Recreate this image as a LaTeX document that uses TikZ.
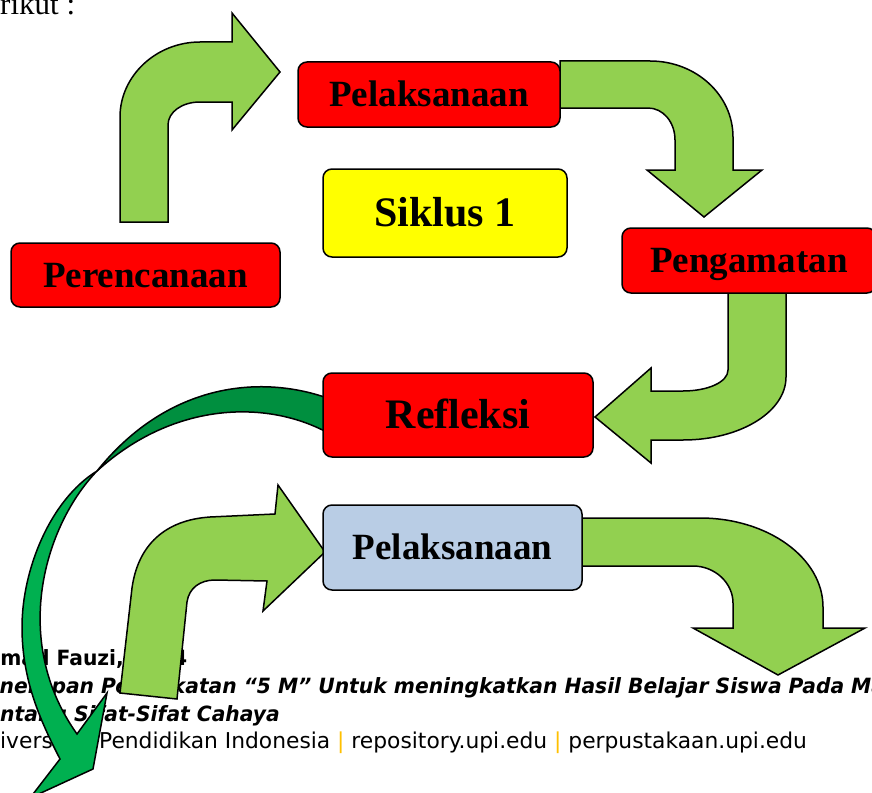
\documentclass[tikz,border=0pt]{standalone}
\usepackage{fontspec}
\setmainfont{Liberation Serif}
\newfontfamily\footfont{DejaVu Sans}
\newfontfamily\footcond[FakeStretch=0.965]{DejaVu Sans}
\usepackage{tikz}

\definecolor{arrowgreen}{HTML}{92D050}
\definecolor{darkarrow}{HTML}{008F3F}
\definecolor{brightarrow}{HTML}{00B050}
\definecolor{stagered}{HTML}{FF0000}
\definecolor{stageyellow}{HTML}{FFFF00}
\definecolor{stageblue}{HTML}{B9CDE5}
\definecolor{bargold}{HTML}{FFC000}

\begin{document}
\begin{tikzpicture}[
    x=1pt, y=-1pt,
    stage/.style={rectangle, draw, line width=1.5pt, rounded corners=9pt, inner sep=0pt, font=\bfseries\fontsize{37}{40}\selectfont, text height=24.5pt, text depth=0pt},
    bigstage/.style={stage, font=\bfseries\fontsize{42}{46}\selectfont, text height=27.8pt},
    bigarrow/.style={draw, line width=1.5pt, fill=arrowgreen},
    footline/.style={anchor=base west, inner sep=0pt, font=\footfont\fontsize{21.8}{25}\selectfont},
    footbold/.style={footline, font=\footcond\bfseries\fontsize{21}{25}\selectfont},
    footitalic/.style={footline, font=\footcond\bfseries\itshape\fontsize{21}{25}\selectfont}
]
    \useasboundingbox (0,0) rectangle (872,792);
    \clip (0,0) rectangle (872,792);

    % Text
    \node[anchor=base west, inner sep=0pt, font=\fontsize{31}{34}\selectfont] (berikut) at (0,15) {rikut :};
    \node[footbold] (penulis) at (-30,665) {Ahmad Fauzi, 2014};
    \node[footitalic] (judul) at (-28.6,693) {Penerapan Pendekatan “5 M” Untuk meningkatkan Hasil Belajar Siswa Pada Ma};
    \node[footitalic] (judulb) at (-23.4,721) {tentang Sifat-Sifat Cahaya};
    \node[footline] (kampus) at (-29.8,748) {Universitas Pendidikan Indonesia {\color{bargold}|} repository.upi.edu {\color{bargold}|} perpustakaan.upi.edu};

    % Arrows
    \draw[bigarrow] (120,222) -- (120,117) .. controls (120,76) and (156,42) .. (200,42) -- (232,42) -- (232,13) -- (280,72) -- (232,130) -- (232,102) -- (200,102) .. controls (182,102) and (168,112) .. (168,125) -- (168,222) -- cycle;
    \draw[bigarrow] (560,61) -- (650,61) .. controls (696,61) and (733,95) .. (733,137) -- (733,170) -- (762,170) -- (704,217) -- (647,170) -- (675,170) -- (675,140) .. controls (675,122) and (663,108) .. (648,108) -- (560,108) -- cycle;
    \draw[bigarrow] (728,293) -- (728,370) .. controls (728,382) and (708,391) .. (683,391) -- (651,391) -- (651,368) -- (595,417) -- (651,463) -- (651,440) -- (683,440) .. controls (740,440) and (786,412) .. (786,377) -- (786,293) -- cycle;
    \draw[line width=1.5pt, fill=darkarrow] (330,399) .. controls (265,375) and (170,380) .. (97,471) .. controls (175,400) and (270,400) .. (330,434) -- cycle;
    \draw[line width=1.5pt, fill=brightarrow] (97,471) .. controls (50,500) and (22,570) .. (22,627) .. controls (22,680) and (40,720) .. (60,759) -- (30,798) -- (93,769) -- (107,693) -- (77,734) .. controls (10,640) and (45,525) .. (97,471) -- cycle;
    \draw[bigarrow] (120,693) -- (132,588) .. controls (138,545) and (165,520) .. (210,517) -- (275,514) -- (278,485) -- (325,552) -- (263,611) -- (267,581) -- (215,580) .. controls (200,580) and (189,588) .. (187,602) -- (177,699) -- cycle;
    \draw[bigarrow] (582,518) -- (700,518) .. controls (768,518) and (823,558) .. (823,607) -- (823,628) -- (865,628) -- (778,675) -- (693,628) -- (733,628) -- (733,603) .. controls (733,583) and (715,566) .. (693,566) -- (582,566) -- cycle;

    % Nodes
    \node[stage, fill=stagered, minimum width=262pt, minimum height=65pt] (pelaksanaan) at (429,94.5) {Pelaksanaan};
    \node[bigstage, fill=stageyellow, minimum width=244pt, minimum height=88pt] (siklus) at (445,213) {Siklus 1};
    \node[stage, fill=stagered, minimum width=269pt, minimum height=64pt] (perencanaan) at (145.5,275) {Perencanaan};
    \node[stage, fill=stagered, minimum width=254pt, minimum height=65pt] (pengamatan) at (749,260.5) {Pengamatan};
    \node[bigstage, fill=stagered, minimum width=270pt, minimum height=84pt] (refleksi) at (458,415) {Refleksi};
    \node[stage, fill=stageblue, minimum width=259pt, minimum height=85pt] (pelaksanaanb) at (452.5,547.5) {Pelaksanaan};
\end{tikzpicture}
\end{document}
